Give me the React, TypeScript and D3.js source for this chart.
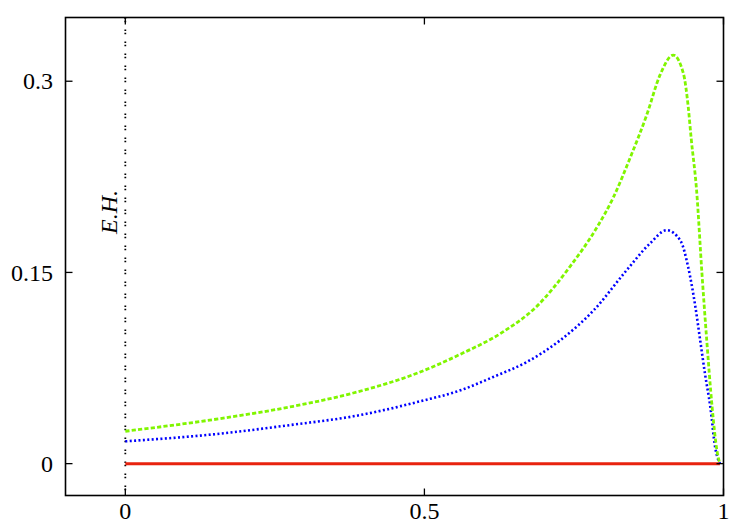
import React, { useEffect, useRef } from "react";
import * as d3 from "d3";

// Line plot near the event horizon (E.H.): two peaked curves and a flat zero line.
const xTicks = [0, 0.5, 1];
const yTicks = [0, 0.15, 0.3];
const xTickLabels = ["0", "0.5", "1"];
const yTickLabels = ["0", "0.15", "0.3"];

const greenX = [0, 0.158, 0.281, 0.381, 0.493, 0.56, 0.632, 0.688, 0.744, 0.788, 0.816, 0.844, 0.872, 0.894, 0.916, 0.933, 0.941, 0.946, 0.955, 0.964, 0.972, 0.981, 0.989, 0.994];
const greenY = [0.0254, 0.0353, 0.045, 0.0554, 0.0719, 0.0858, 0.1035, 0.1235, 0.155, 0.185, 0.209, 0.24, 0.274, 0.305, 0.3205, 0.306, 0.28, 0.255, 0.2145, 0.149, 0.0968, 0.0444, 0.0104, 0];

const blueX = [0, 0.158, 0.281, 0.381, 0.493, 0.56, 0.615, 0.671, 0.727, 0.783, 0.838, 0.877, 0.905, 0.928, 0.941, 0.953, 0.961, 0.969, 0.978, 0.986, 0.994];
const blueY = [0.0175, 0.0235, 0.0306, 0.0371, 0.0489, 0.0575, 0.068, 0.0797, 0.0968, 0.1203, 0.1517, 0.1727, 0.1831, 0.175, 0.154, 0.123, 0.0968, 0.0706, 0.0444, 0.013, 0];

const redX = [0, 0.994];
const redY = [0, 0];

const horizonX = 0;

export default function App() {
  const ref = useRef<SVGSVGElement>(null);

  useEffect(() => {
    const svg = d3.select(ref.current);
    svg.selectAll("*").remove();

    const margin = { left: 65.5, right: 26.5, top: 17.5, bottom: 29.5 };
    const W = 750;
    const H = 525;

    const x = d3.scaleLinear().domain([-0.1, 1]).range([margin.left, W - margin.right]);
    const y = d3.scaleLinear().domain([-0.025, 0.35]).range([H - margin.bottom, margin.top]);

    const font = "'Liberation Serif', 'Times New Roman', Times, serif";

    const line = d3
      .line<[number, number]>()
      .x((d) => x(d[0]))
      .y((d) => y(d[1]))
      .curve(d3.curveMonotoneX);

    svg
      .append("clipPath")
      .attr("id", "plot-clip")
      .append("rect")
      .attr("x", x(-0.1))
      .attr("y", y(0.35))
      .attr("width", x(1) - x(-0.1))
      .attr("height", y(-0.025) - y(0.35));

    const plot = svg.append("g").attr("clip-path", "url(#plot-clip)");

    // event horizon marker
    plot
      .append("line")
      .attr("x1", x(horizonX))
      .attr("x2", x(horizonX))
      .attr("y1", y(0.35))
      .attr("y2", y(-0.025))
      .attr("stroke", "#000")
      .attr("stroke-width", 1.8)
      .attr("stroke-dasharray", "1.6,1.6,1.6,7.2");

    plot
      .append("path")
      .datum(d3.zip(redX, redY) as [number, number][])
      .attr("fill", "none")
      .attr("stroke", "#e8230f")
      .attr("stroke-width", 3)
      .attr("d", line);

    plot
      .append("path")
      .datum(d3.zip(blueX, blueY) as [number, number][])
      .attr("fill", "none")
      .attr("stroke", "#0000ff")
      .attr("stroke-width", 2.6)
      .attr("stroke-dasharray", "2,2.4")
      .attr("d", line);

    plot
      .append("path")
      .datum(d3.zip(greenX, greenY) as [number, number][])
      .attr("fill", "none")
      .attr("stroke", "#80f500")
      .attr("stroke-width", 2.8)
      .attr("stroke-dasharray", "4.2,2.2")
      .attr("d", line);

    // frame
    svg
      .append("rect")
      .attr("x", x(-0.1))
      .attr("y", y(0.35))
      .attr("width", x(1) - x(-0.1))
      .attr("height", y(-0.025) - y(0.35))
      .attr("fill", "none")
      .attr("stroke", "#000")
      .attr("stroke-width", 1.6);

    const tickLen = 7;
    const ticks = svg.append("g").attr("stroke", "#000").attr("stroke-width", 1.3);
    xTicks.forEach((t) => {
      ticks.append("line").attr("x1", x(t)).attr("x2", x(t)).attr("y1", y(-0.025)).attr("y2", y(-0.025) - tickLen);
      ticks.append("line").attr("x1", x(t)).attr("x2", x(t)).attr("y1", y(0.35)).attr("y2", y(0.35) + tickLen);
    });
    yTicks.forEach((t) => {
      ticks.append("line").attr("x1", x(-0.1)).attr("x2", x(-0.1) + tickLen).attr("y1", y(t)).attr("y2", y(t));
      ticks.append("line").attr("x1", x(1)).attr("x2", x(1) - tickLen).attr("y1", y(t)).attr("y2", y(t));
    });

    svg
      .append("g")
      .selectAll("text")
      .data(xTicks)
      .join("text")
      .attr("x", (d) => x(d))
      .attr("y", 519)
      .attr("text-anchor", "middle")
      .style("font-family", font)
      .attr("font-size", 24)
      .text((d, i) => xTickLabels[i]);

    svg
      .append("g")
      .selectAll("text")
      .data(yTicks)
      .join("text")
      .attr("x", 53)
      .attr("y", (d) => y(d))
      .attr("dy", "0.34em")
      .attr("text-anchor", "end")
      .style("font-family", font)
      .attr("font-size", 24)
      .text((d, i) => yTickLabels[i]);

    svg
      .append("text")
      .attr("transform", "translate(117,212) rotate(-90)")
      .attr("text-anchor", "middle")
      .style("font-family", font)
      .attr("font-style", "italic")
      .attr("font-size", 24)
      .text("E.H.");
  }, []);

  return (
    <svg
      ref={ref}
      width={750}
      height={525}
      style={{ position: "absolute", left: 0, top: 0, background: "#fff" }}
    />
  );
}
